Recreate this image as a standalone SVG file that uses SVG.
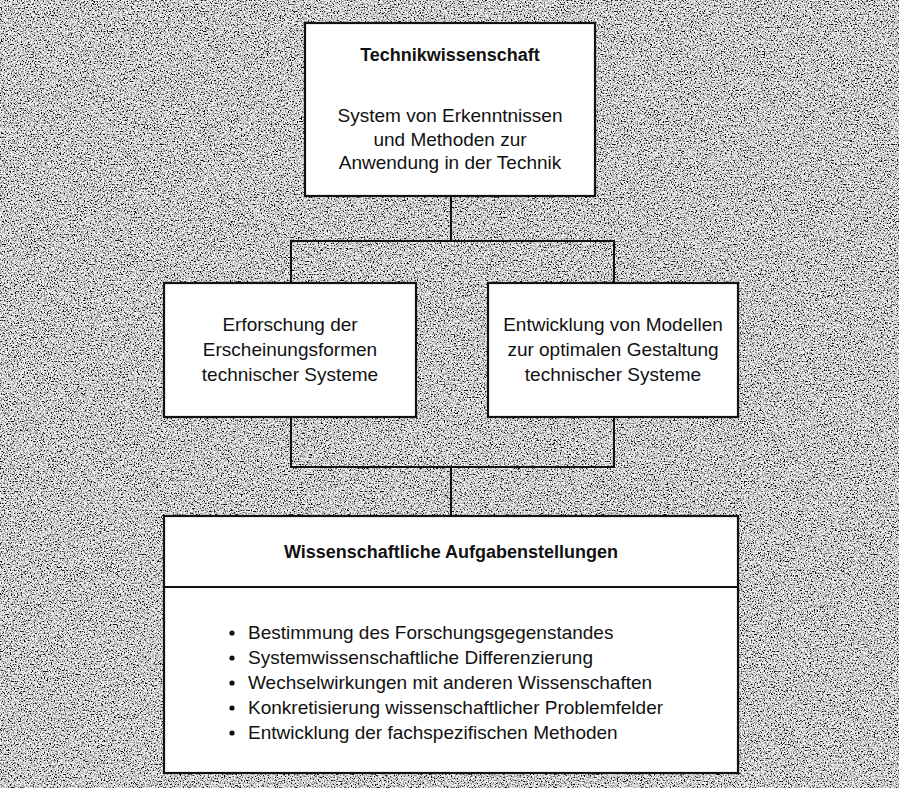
<svg xmlns="http://www.w3.org/2000/svg" width="899" height="788" viewBox="0 0 899 788">
<style>
.box{fill:#fff;stroke:#111;stroke-width:2.2}
.con{fill:none;stroke:#111;stroke-width:2}
text{font-family:"Liberation Sans",Arial,sans-serif;fill:#111;font-size:19px}
.c{text-anchor:middle}
.b{font-weight:bold;font-size:18px}
</style>
<defs>
<filter id="noise" x="0" y="0" width="899" height="788" filterUnits="userSpaceOnUse">
<feTurbulence type="fractalNoise" baseFrequency="0.7" numOctaves="3" seed="7" result="t"/>
<feColorMatrix in="t" type="matrix" values="3.4 0 0 0 -1.05  3.4 0 0 0 -1.05  3.4 0 0 0 -1.05  0 0 0 0 1"/>
</filter>
</defs>
<rect x="0" y="0" width="899" height="788" fill="#aaa"/>
<rect x="0" y="0" width="899" height="788" filter="url(#noise)" opacity="0.9"/>
<g id="connectors">
<path class="con" d="M451 196 V241"/>
<path class="con" d="M291 283 V241 H614 V283"/>
<path class="con" d="M291 417 V467 H614 V417"/>
<path class="con" d="M451 467 V516"/>
</g>
<g id="node-technikwissenschaft">
<rect class="box" x="305" y="23" width="290" height="173"/>
<text class="c b" x="450" y="61">Technikwissenschaft</text>
<text class="c" x="450" y="122">System von Erkenntnissen</text>
<text class="c" x="450" y="145.5">und Methoden zur</text>
<text class="c" x="450" y="169">Anwendung in der Technik</text>
</g>
<g id="node-erforschung">
<rect class="box" x="164" y="283" width="252" height="134"/>
<text class="c" x="290" y="331">Erforschung der</text>
<text class="c" x="290" y="356">Erscheinungsformen</text>
<text class="c" x="290" y="381">technischer Systeme</text>
</g>
<g id="node-entwicklung">
<rect class="box" x="488" y="283" width="250" height="134"/>
<text class="c" x="613" y="331">Entwicklung von Modellen</text>
<text class="c" x="613" y="356">zur optimalen Gestaltung</text>
<text class="c" x="613" y="381">technischer Systeme</text>
</g>
<g id="node-aufgaben">
<rect class="box" x="164" y="516" width="574" height="257"/>
<line class="con" x1="164" y1="587" x2="738" y2="587"/>
<text class="c b" x="451" y="558">Wissenschaftliche Aufgabenstellungen</text>
<g>
<circle cx="232" cy="633" r="2.6" fill="#111"/>
<circle cx="232" cy="658" r="2.6" fill="#111"/>
<circle cx="232" cy="683" r="2.6" fill="#111"/>
<circle cx="232" cy="708" r="2.6" fill="#111"/>
<circle cx="232" cy="733" r="2.6" fill="#111"/>
</g>
<text x="248" y="639">Bestimmung des Forschungsgegenstandes</text>
<text x="248" y="664">Systemwissenschaftliche Differenzierung</text>
<text x="248" y="689">Wechselwirkungen mit anderen Wissenschaften</text>
<text x="248" y="714">Konkretisierung wissenschaftlicher Problemfelder</text>
<text x="248" y="739">Entwicklung der fachspezifischen Methoden</text>
</g>
</svg>
